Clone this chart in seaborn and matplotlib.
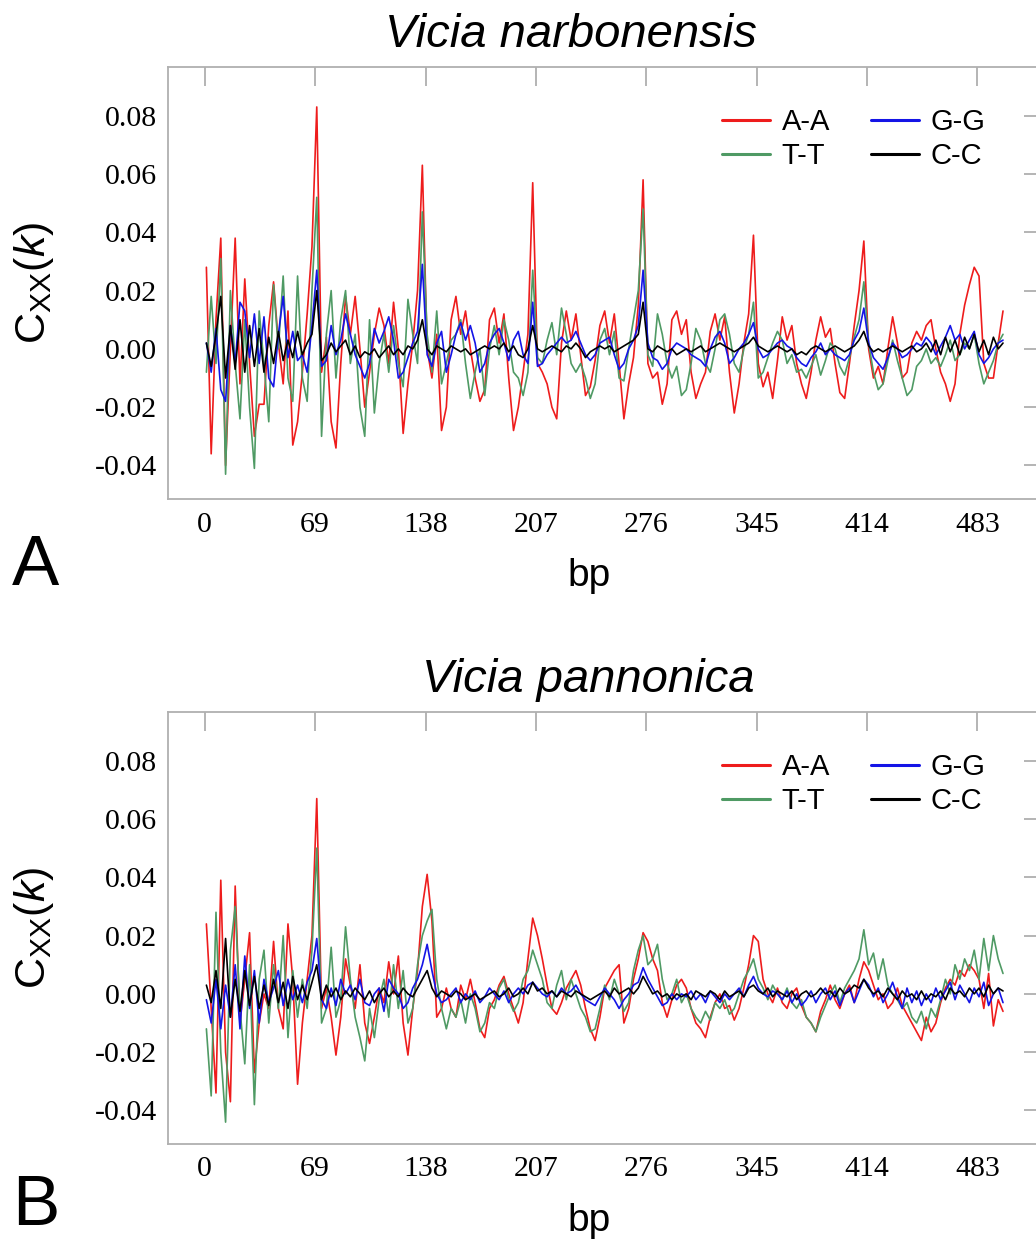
"""
Autocorrelation C_XX(k) of A-A, T-T, G-G and C-C pairs along 500 bp
for two Vicia species (panel A: V. narbonensis, panel B: V. pannonica).
"""

import numpy as np
import pandas as pd
import seaborn as sns
import matplotlib.pyplot as plt
from matplotlib.lines import Line2D
from matplotlib.ticker import FormatStrFormatter

# distance in bp (one reading every 3 bp)
BP = np.arange(1, 501, 3)

PAIRS = ["A-A", "T-T", "G-G", "C-C"]
COLORS = {"A-A": "#ee1c1c", "T-T": "#4f9a64", "G-G": "#1414e6", "C-C": "#000000"}
XTICKS = [0, 69, 138, 207, 276, 345, 414, 483]
YTICKS = [-0.04, -0.02, 0.00, 0.02, 0.04, 0.06, 0.08]

# values, in units of 1e-3
# Vicia narbonensis
aa_narb = [
    28, -36, 10, 38, -40, 0, 38, -12, 24, -5,
    -30, -19, -19, 8, 23, 2, -12, 13, -33, -25,
    -8, 12, 35, 83, -8, 4, -25, -34, -5, 18,
    5, 18, 0, -20, -8, 5, 14, 8, -5, 16,
    0, -29, -12, 2, 20, 63, 0, -10, 5, -28,
    -20, 10, 18, 5, 13, 0, -10, -18, -14, 10,
    14, 2, 12, -10, -28, -20, -8, 5, 57, -5,
    -8, -12, -20, -24, 2, 13, 3, 12, -2, -16,
    -13, -4, 8, 13, 2, 12, -5, -24, -12, -3,
    15, 58, -5, -10, -8, -19, -12, 10, 13, 5,
    10, -8, -17, -12, -8, 6, 12, 3, 11, -8,
    -22, -12, 2, 12, 39, -5, -13, -8, -17, -4,
    11, 3, 8, -5, -12, -17, -8, 3, 11, 4,
    7, -5, -15, -17, -5, 8, 20, 37, 0, -10,
    -6, -12, 0, 11, 2, -10, -8, 2, 6, 3,
    8, 10, 0, -8, -12, -18, -12, 5, 15, 22,
    28, 25, -5, -10, -10, 2, 13,
]
tt_narb = [
    -8, 18, -5, 31, -43, 20, -5, -24, 10, -20,
    -41, 13, -5, -25, 22, 0, 25, -10, -18, 25,
    -10, -18, 20, 52, -30, 5, 20, -10, 10, 20,
    -5, 5, -20, -30, 10, -22, -5, 5, -8, 8,
    -5, -13, 17, 5, -5, 47, 5, -8, 13, -12,
    -5, 3, 5, 10, -5, -17, -8, 0, -16, 0,
    8, -2, 10, 3, -8, -10, -16, -8, 27, -3,
    -5, 3, 9, -2, 14, 5, -5, -8, -5, -10,
    -17, -12, 3, 7, -2, 6, -10, -11, 0, 10,
    20, 48, -2, -6, 12, 5, -5, -10, -6, -16,
    -14, -5, 7, 3, -5, -8, 0, 10, 12, 5,
    -5, -8, 0, 5, 16, -10, -8, -3, 2, 6,
    3, -5, -2, -8, -7, -10, -6, -2, -9, -4,
    2, 0, -6, -9, -3, 4, 10, 23, 2, -8,
    -14, -12, -4, 3, -4, -10, -16, -14, -6, -4,
    0, -5, -3, -6, -2, 3, -4, -2, 2, 0,
    5, -5, -12, -8, -4, 2, 5,
]
gg_narb = [
    2, -8, 7, -14, -18, 8, -5, 16, 13, -3,
    12, -5, 11, -10, -13, 5, 18, -3, 6, -4,
    -2, -8, 8, 27, -6, -4, 8, -2, 3, 12,
    5, -2, -6, -10, -5, 7, 2, 6, 11, 3,
    -10, -8, -3, 2, 6, 29, -2, -6, 2, 6,
    -8, -2, 5, 9, 3, 8, 2, -8, -5, 2,
    5, 7, 2, -4, 3, 6, -2, -5, 16, -6,
    -5, -2, 0, 2, 4, 2, 3, 6, 2, -2,
    -4, -2, 2, 3, 4, -2, -7, -5, 0, 3,
    8, 27, 2, -3, -4, -7, -5, 0, 2, 1,
    0, -2, -3, -4, -6, 0, 4, 6, 2, -5,
    -3, 0, 2, 5, 9, 0, -3, -2, 0, 2,
    3, 1, 0, -3, -5, -6, -3, -1, 2, -2,
    0, -2, -3, -4, -2, 3, 6, 14, 2, -3,
    -5, -7, -3, 2, 0, -3, -2, 0, 2, 1,
    4, 2, -2, 1, 4, 8, 3, 5, 0, 3,
    6, -2, -5, -3, 0, 2, 3,
]
cc_narb = [
    2, -6, 5, 18, -10, 8, -7, 10, -8, 8,
    -6, 7, -8, 4, -5, 6, -4, 3, -3, 6,
    -2, 2, 5, 20, -4, -2, 2, -1, 1, 3,
    -2, 1, -3, -1, -2, 0, -3, -1, 1, -2,
    0, -2, 1, 0, 3, 10, 0, -2, 1, 0,
    -1, 1, 0, -1, 0, -2, -1, 0, 1, 0,
    1, 0, 2, -1, 1, -2, -3, 0, 8, 0,
    -1, 0, 1, 0, -1, 1, 0, 2, 0, -3,
    -1, 0, 1, 0, 1, -1, 0, 1, 2, 3,
    5, 16, 0, -1, 1, 0, -1, 0, -2, -1,
    0, -1, 0, 1, -1, 0, 1, 2, 1, 0,
    -1, 0, 1, 2, 4, 1, 0, -1, 0, 1,
    0, -1, 0, -2, -1, -2, 0, 1, 0, -1,
    0, 1, 0, -1, 0, 1, 3, 6, 1, -1,
    0, -1, 0, 1, 0, -1, 0, 1, -1, 0,
    2, -1, 3, -2, 4, -1, 3, -2, 4, 0,
    5, -1, 3, -2, 4, 0, 2,
]

# Vicia pannonica
aa_pann = [
    24, -5, -34, 39, -20, -37, 37, -10, 5, 21,
    -27, -10, 0, -5, 18, -5, -12, 24, 5, -31,
    -10, 5, 20, 67, -5, 2, -8, -21, -8, 12,
    3, -5, 10, -10, -17, -8, 2, -3, 11, 0,
    13, -10, -21, -5, 8, 30, 41, 25, -8, -5,
    2, -5, -8, 3, -2, 5, -3, -12, -15, -5,
    -2, 3, 6, 0, -5, -10, -3, 12, 26, 20,
    12, 3, -5, -7, -3, 2, 5, 8, 3, -5,
    -12, -16, -8, 2, 5, 8, 10, -10, -5, 5,
    12, 21, 18, 12, 8, -3, -8, -2, 3, 5,
    2, -5, -10, -12, -15, -8, -3, 0, -5, -4,
    -9, -5, 2, 10, 20, 18, 5, 0, -3, 2,
    -3, -5, 0, 2, -4, -8, -10, -13, -6, -2,
    3, -2, -5, 0, 3, -3, 5, 11, 8, 3,
    -2, 0, -5, -3, 2, -4, -7, -10, -13, -16,
    -8, -13, -10, -3, 2, 5, 3, 8, 6, 10,
    8, 5, -5, 7, -11, -2, -6,
]
tt_pann = [
    -12, -35, 28, -20, -44, 15, 30, -5, -24, 10,
    -38, 5, 15, -10, 10, -5, 20, -15, 8, -8,
    5, -5, 15, 50, -10, -5, 16, -8, -2, 23,
    5, -8, -15, -23, -5, -15, -2, 5, -8, 10,
    -5, 8, -10, -5, 10, 20, 25, 29, 5, -5,
    -12, -5, -8, -2, -10, 0, -5, -13, -10, -3,
    -5, 2, 5, -2, -6, -3, 5, 8, 15, 10,
    5, -3, -5, 3, 8, -2, 5, 0, -5, -8,
    -13, -12, -5, 3, -2, 5, 0, -6, -3, 8,
    15, 20, 10, 12, 17, 5, -2, 0, 5, -3,
    0, -5, -8, -10, -6, -9, -3, -5, -2, -7,
    -5, 0, 5, 8, 12, 5, 2, -2, 3, 0,
    -2, 2, -3, -5, -2, -8, -10, -13, -8, -4,
    0, 3, -3, 2, 5, 8, 12, 22, 10, 14,
    5, 12, 3, 0, -2, -5, -3, -8, -10, -6,
    -12, -5, -8, -2, 5, 0, 10, 5, 12, 8,
    15, 5, 19, 8, 20, 12, 7,
]
gg_pann = [
    -2, -10, 5, -12, 3, -8, 10, -12, 13, -5,
    8, -10, 5, -3, 2, 8, -4, 5, -2, 3,
    -3, 4, 8, 19, -2, -5, 2, -4, 5, 0,
    3, -2, 5, -3, -4, 0, 2, -6, 5, 2,
    0, -5, -3, 2, 5, 10, 17, 8, 0, -3,
    -2, 0, 2, -3, 0, -2, 1, -3, -1, 2,
    0, -2, 1, -3, 0, 2, 0, 3, 4, 2,
    0, -1, 1, -1, 2, 0, 1, 3, 0, -2,
    -3, -4, -1, 2, 0, -2, -5, -2, 0, 3,
    4, 9, 5, 2, -1, -4, -3, 0, -2, 0,
    -1, 1, -2, 0, -3, 1, -1, -3, 0, -2,
    0, 2, -1, 3, 6, 2, 0, -1, 1, 0,
    -2, 1, -3, 0, -4, -2, 1, -3, 0, 2,
    -2, 1, -4, 0, 2, -3, 1, 5, 3, -1,
    2, -3, 0, 4, -1, -5, 2, -3, 1, -4,
    0, -3, 2, -2, 1, 4, -2, 3, 0, -3,
    2, -1, 4, -4, 0, 2, -3,
]
cc_pann = [
    3, -3, 8, -5, 19, -8, 5, -6, 8, -4,
    6, -5, 3, -4, 5, -3, 4, -5, 6, -2,
    3, -2, 4, 10, -2, 3, -1, 2, -2, 1,
    -1, 2, 0, -2, 1, -3, 0, 2, -1, 1,
    -1, 2, 0, -1, 2, 5, 8, 2, -1, 1,
    0, -1, 1, 0, -2, -1, 0, -2, -1, 0,
    1, -1, 0, 2, -1, 0, 2, 0, 4, 1,
    2, 0, 1, -1, 1, 0, -1, 1, 0, -1,
    -2, -1, 0, 1, -1, 2, 0, 1, 2, 0,
    2, 6, 3, 0, 1, -1, 0, -2, 0, -1,
    0, -2, 1, 0, -1, 1, 0, -2, 1, -1,
    0, 1, -1, 2, 3, 1, 0, 2, -1, 1,
    0, -1, 1, -2, 0, 1, -1, 0, 2, 0,
    1, -1, 2, 0, 1, 3, 2, 5, 2, 0,
    1, -1, 2, 0, -2, 1, -1, 0, -2, 1,
    -2, 0, -1, 1, -2, 2, 0, 1, -1, 2,
    0, 2, -1, 3, 0, 2, 1,
]

PANELS = [
    ("Vicia narbonensis", "A", {"A-A": aa_narb, "T-T": tt_narb, "G-G": gg_narb, "C-C": cc_narb}),
    ("Vicia pannonica", "B", {"A-A": aa_pann, "T-T": tt_pann, "G-G": gg_pann, "C-C": cc_pann}),
]

sns.set_theme(style="white")
plt.rcParams["font.family"] = ["Liberation Serif", "DejaVu Serif"]
plt.rcParams["axes.unicode_minus"] = False
plt.rcParams["text.color"] = "black"
plt.rcParams["axes.labelcolor"] = "black"
plt.rcParams["mathtext.fontset"] = "custom"
plt.rcParams["mathtext.rm"] = "Liberation Sans"
plt.rcParams["mathtext.it"] = "Liberation Sans:italic"
SANS = ["Liberation Sans", "DejaVu Sans"]

W, H = 1036, 1242
fig = plt.figure(figsize=(W / 100, H / 100), dpi=100)

# panel geometry in pixels: axes left, right, and top spine of each panel
AX_L, AX_R, AX_H = 168, 1043, 432
TOPS = [67, 712]
TITLE_X = [571, 588]

for (title, letter, series), top, tx in zip(PANELS, TOPS, TITLE_X):
    ax = fig.add_axes([AX_L / W, 1 - (top + AX_H) / H, (AX_R - AX_L) / W, AX_H / H])

    df = pd.concat(
        [pd.DataFrame({"bp": BP, "C": np.array(v) / 1000.0, "pair": p}) for p, v in series.items()],
        ignore_index=True,
    )
    sns.lineplot(
        data=df, x="bp", y="C", hue="pair", hue_order=PAIRS, palette=COLORS,
        linewidth=1.2, errorbar=None, legend=False, ax=ax,
    )

    ax.set_xlim(-23, 524)
    ax.set_ylim(-0.0515, 0.0967)
    ax.set_xticks(XTICKS)
    ax.set_yticks(YTICKS)
    ax.yaxis.set_major_formatter(FormatStrFormatter("%.2f"))
    ax.tick_params(direction="in", length=14, width=1.1, color="#a0a0a0",
                   top=True, right=True, labelsize=21.5, labelcolor="black")
    ax.tick_params(axis="x", pad=9)
    ax.tick_params(axis="y", pad=8)
    for sp in ax.spines.values():
        sp.set_color("#b0b0b0")
        sp.set_linewidth(1.3)

    ax.set_xlabel("bp", fontsize=28, fontfamily=SANS, color="black")
    ax.xaxis.set_label_coords(0.481, -0.137)
    ax.set_ylabel("C$_{\\mathrm{XX}}$($\\mathit{k}$)", fontsize=31, fontfamily=SANS, color="black")
    ax.yaxis.set_label_coords(-0.128, 0.5)

    handles = [Line2D([], [], color=COLORS[p], linewidth=2.2) for p in PAIRS]
    leg = ax.legend(handles, PAIRS, ncol=2, loc="upper left", bbox_to_anchor=(0.633, 0.905),
                    frameon=False, prop={"family": SANS, "size": 21},
                    handlelength=1.65, handletextpad=0.4, columnspacing=1.4,
                    labelspacing=0.2, borderaxespad=0, borderpad=0)
    for t in leg.get_texts():
        t.set_color("black")

    fig.text(tx / W, 1 - (top - 20) / H, title, ha="center", va="baseline",
             fontsize=34, style="italic", fontfamily=SANS, color="black")
    # panel letter; keep its box (descent included) inside the figure
    letter_y = min(1 - (top + AX_H + 86) / H, 1 - 1240 / H)
    letter_va = "baseline" if letter == "A" else "bottom"
    fig.text(12 / W, letter_y if letter == "B" else 1 - (top + AX_H + 86) / H, letter,
             ha="left", va=letter_va, fontsize=51, fontfamily=SANS, color="black")

fig.savefig("out.png", dpi=100)
